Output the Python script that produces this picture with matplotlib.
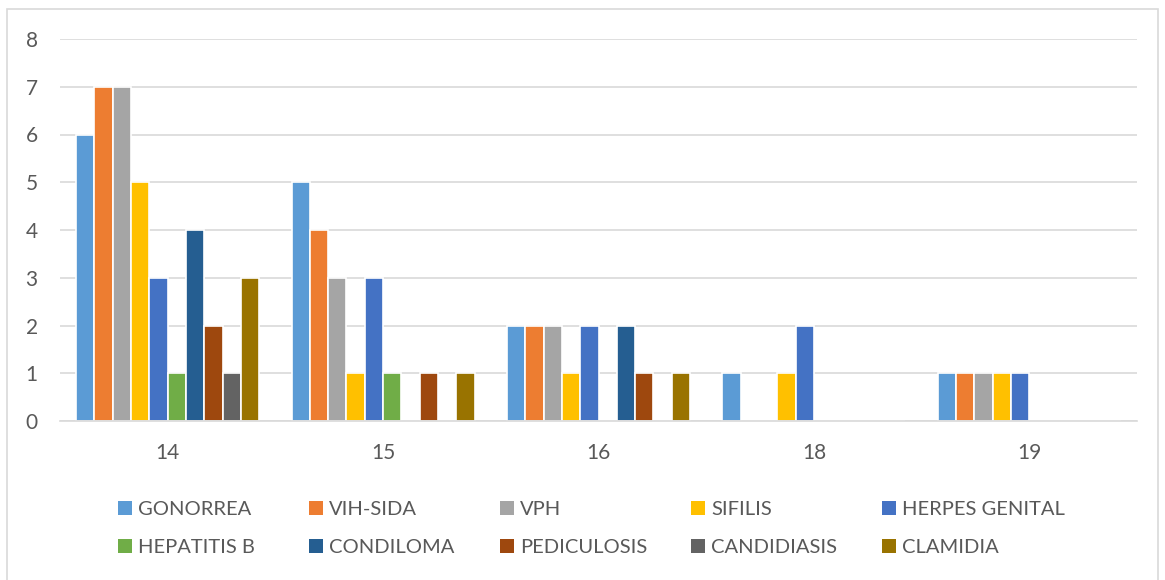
import numpy as np
import matplotlib.pyplot as plt
from matplotlib.patches import Rectangle

plt.rcParams['font.family'] = ['Lato', 'DejaVu Sans']

# data
ages = ['14', '15', '16', '18', '19']
series = ['GONORREA', 'VIH-SIDA', 'VPH', 'SIFILIS', 'HERPES GENITAL',
          'HEPATITIS B', 'CONDILOMA', 'PEDICULOSIS', 'CANDIDIASIS', 'CLAMIDIA']
gonorrea = [6, 5, 2, 1, 1]
vih_sida = [7, 4, 2, 0, 1]
vph = [7, 3, 2, 0, 1]
sifilis = [5, 1, 1, 1, 1]
herpes = [3, 3, 2, 2, 1]
hepatitis_b = [1, 1, 0, 0, 0]
condiloma = [4, 0, 2, 0, 0]
pediculosis = [2, 1, 1, 0, 0]
candidiasis = [1, 0, 0, 0, 0]
clamidia = [3, 1, 1, 0, 0]
values = [gonorrea, vih_sida, vph, sifilis, herpes,
          hepatitis_b, condiloma, pediculosis, candidiasis, clamidia]
colors = ['#5B9BD5', '#ED7D31', '#A5A5A5', '#FFC000', '#4472C4',
          '#70AD47', '#255E91', '#9E480E', '#636363', '#997300']

W, H = 1165, 580
fig = plt.figure(figsize=(W / 100, H / 100), dpi=100)
ax = fig.add_axes([60 / W, 1 - 421 / H, 1077 / W, 382 / H])

x = np.arange(len(ages))
slot = 0.085
offsets = (np.arange(len(series)) - (len(series) - 1) / 2) * slot
handles = []
for i, (name, vals) in enumerate(zip(series, values)):
    b = ax.bar(x + offsets[i], vals, width=slot, color=colors[i], label=name,
               edgecolor='white', linewidth=1.2, zorder=3)
    handles.append(b)

ax.set_xlim(-0.5, len(ages) - 0.5)
ax.set_ylim(0, 8)
ax.set_yticks(range(0, 9))
ax.set_xticks(x)
ax.set_xticklabels(ages)
ax.tick_params(axis='both', length=0, labelsize=15, colors='#595959')
ax.tick_params(axis='x', pad=16)
ax.tick_params(axis='y', pad=16)
ax.grid(axis='y', color='#D9D9D9', linewidth=1.2, zorder=0)
for s in ['top', 'right', 'left']:
    ax.spines[s].set_visible(False)
ax.spines['bottom'].set_color('#D9D9D9')
ax.spines['bottom'].set_linewidth(1.2)
ax.spines['bottom'].set_zorder(4)

# legend: 5 columns of equal width, 2 rows
for k in range(5):
    leg = fig.legend([handles[k], handles[k + 5]], [series[k], series[k + 5]],
                     loc='center left', bbox_to_anchor=((118 + 191 * k) / W, 1 - 528.5 / H),
                     frameon=False, fontsize=14.5, borderpad=0, borderaxespad=0,
                     handlelength=0.7, handleheight=0.7, handletextpad=0.3,
                     labelspacing=1.05)
    for t in leg.get_texts():
        t.set_color('#595959')
    for h in leg.legend_handles:
        h.set_edgecolor('none')

fig.patches.append(Rectangle((7 / W, -0.01), 1151 / W, 1 - 9 / H + 0.01,
                             transform=fig.transFigure, fill=False,
                             edgecolor='#D9D9D9', linewidth=1.2))

fig.savefig('out.png', dpi=100)
